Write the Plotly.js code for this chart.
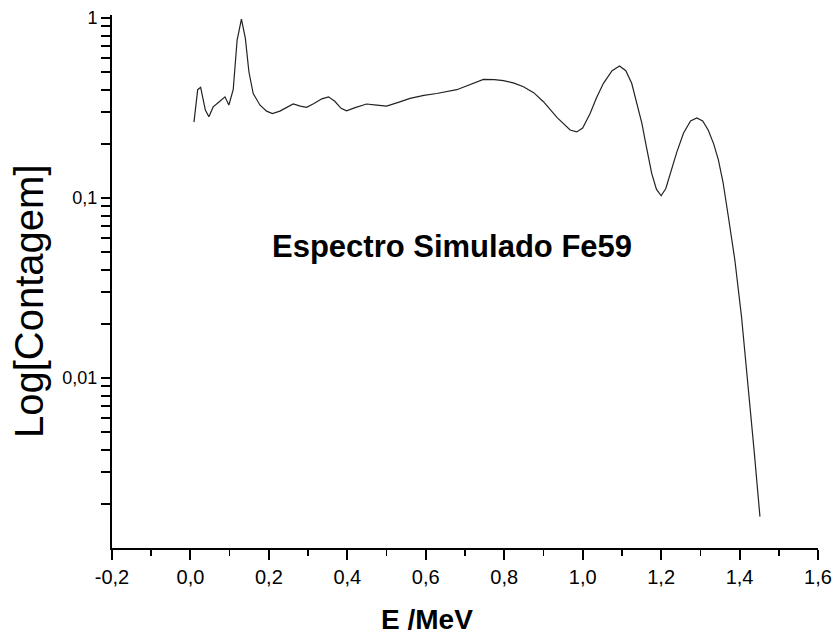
<!DOCTYPE html>
<html>
<head>
<meta charset="utf-8">
<script src="https://cdn.plot.ly/plotly-3.0.1.min.js"></script>
<style>html,body{margin:0;padding:0;background:#fff;}#chart{width:836px;height:635px;}</style>
</head>
<body>
<div id="chart"></div>
<script>
const energy = [0.009,0.0185,0.026,0.038,0.047,0.058,0.075,0.088,0.098,0.109,0.119,0.130,0.140,0.149,0.160,0.177,0.194,0.209,0.228,0.245,0.262,0.280,0.296,0.315,0.335,0.352,0.368,0.384,0.398,0.420,0.449,0.475,0.500,0.530,0.560,0.595,0.628,0.679,0.715,0.747,0.775,0.798,0.825,0.849,0.875,0.900,0.935,0.968,0.985,1.000,1.019,1.035,1.053,1.075,1.094,1.110,1.125,1.138,1.151,1.163,1.176,1.188,1.200,1.212,1.223,1.240,1.257,1.275,1.291,1.306,1.320,1.334,1.346,1.358,1.371,1.388,1.405,1.422,1.437,1.452];
const counts = [0.264,0.40,0.412,0.308,0.283,0.321,0.345,0.365,0.329,0.40,0.755,0.987,0.771,0.503,0.381,0.329,0.304,0.295,0.304,0.318,0.333,0.324,0.319,0.335,0.356,0.365,0.345,0.315,0.305,0.318,0.333,0.328,0.324,0.340,0.358,0.372,0.381,0.40,0.43,0.456,0.455,0.449,0.435,0.415,0.385,0.343,0.28,0.239,0.233,0.245,0.295,0.36,0.434,0.51,0.541,0.51,0.434,0.34,0.26,0.19,0.137,0.112,0.103,0.113,0.137,0.18,0.229,0.268,0.279,0.268,0.239,0.20,0.163,0.122,0.080,0.0453,0.0219,0.0093,0.00398,0.0017];
const yTickVals = [0.01, 0.1, 1];
const yTickText = ['0,01', '0,1', '1'];
const xTickVals = [-0.2,0,0.2,0.4,0.6,0.8,1.0,1.2,1.4,1.6];
const xTickText = ['-0,2','0,0','0,2','0,4','0,6','0,8','1,0','1,2','1,4','1,6'];
const chartLabel = 'Espectro Simulado Fe59';
const xTitle = 'E /MeV';
const yTitle = 'Log[Contagem]';

// all y ticks (2..9 within each decade unlabelled, decades labelled)
const yAllVals = [], yAllText = [];
[0.001, 0.01, 0.1].forEach(d => {
  for (let k = 2; k <= 9; k++) { yAllVals.push(+(k * d).toPrecision(3)); yAllText.push(''); }
});
yTickVals.forEach((v, i) => { yAllVals.push(v); yAllText.push(yTickText[i]); });

const W = 706, H = 533, L = 112, T = 15;
const px = v => (v - L) / W;
const py = v => (T + H - v) / H;

const trace = {
  x: energy, y: counts, type: 'scatter', mode: 'lines',
  line: {color: '#222', width: 1.2}, hoverinfo: 'skip'
};
const layout = {
  width: 836, height: 635,
  margin: {l: L, r: 836 - L - W, t: T, b: 635 - T - H},
  paper_bgcolor: '#fff', plot_bgcolor: '#fff',
  showlegend: false,
  xaxis: {
    range: [-0.2, 1.6], showgrid: false, zeroline: false,
    showline: true, linecolor: '#000', linewidth: 2,
    ticks: 'outside', ticklen: 10, tickwidth: 2, tickcolor: '#000',
    tickvals: xTickVals, ticktext: xTickText,
    tickfont: {family: '"Liberation Sans", Arial, sans-serif', size: 20, color: '#000'},
    minor: {dtick: 0.1, tick0: 0, ticks: 'outside', ticklen: 6, tickwidth: 1.5, tickcolor: '#000', showgrid: false}
  },
  yaxis: {
    type: 'log', range: [-2.944, 0.017], showgrid: false, zeroline: false,
    showline: true, linecolor: '#000', linewidth: 2,
    ticks: 'outside', ticklen: 9, tickwidth: 2, tickcolor: '#000',
    tickmode: 'array', tickvals: yAllVals, ticktext: yAllText,
    tickfont: {family: '"Liberation Sans", Arial, sans-serif', size: 18, color: '#000'}
  },
  annotations: [
    {
      text: '<b>' + chartLabel + '</b>', xref: 'paper', yref: 'paper',
      x: px(452), y: py(246), xanchor: 'center', yanchor: 'middle',
      showarrow: false, font: {family: '"Liberation Sans", Arial, sans-serif', size: 31, color: '#000'}
    },
    {
      text: '<b>' + xTitle + '</b>', xref: 'paper', yref: 'paper',
      x: px(427), y: py(619), xanchor: 'center', yanchor: 'middle',
      showarrow: false, font: {family: '"Liberation Sans", Arial, sans-serif', size: 28, color: '#000'}
    },
    {
      text: yTitle, xref: 'paper', yref: 'paper', textangle: -90,
      x: px(29), y: py(301), xanchor: 'center', yanchor: 'middle',
      showarrow: false, font: {family: '"Liberation Sans", Arial, sans-serif', size: 40, color: '#000'}
    }
  ]
};
Plotly.newPlot('chart', [trace], layout, {displayModeBar: false, staticPlot: true});
</script>
</body>
</html>
